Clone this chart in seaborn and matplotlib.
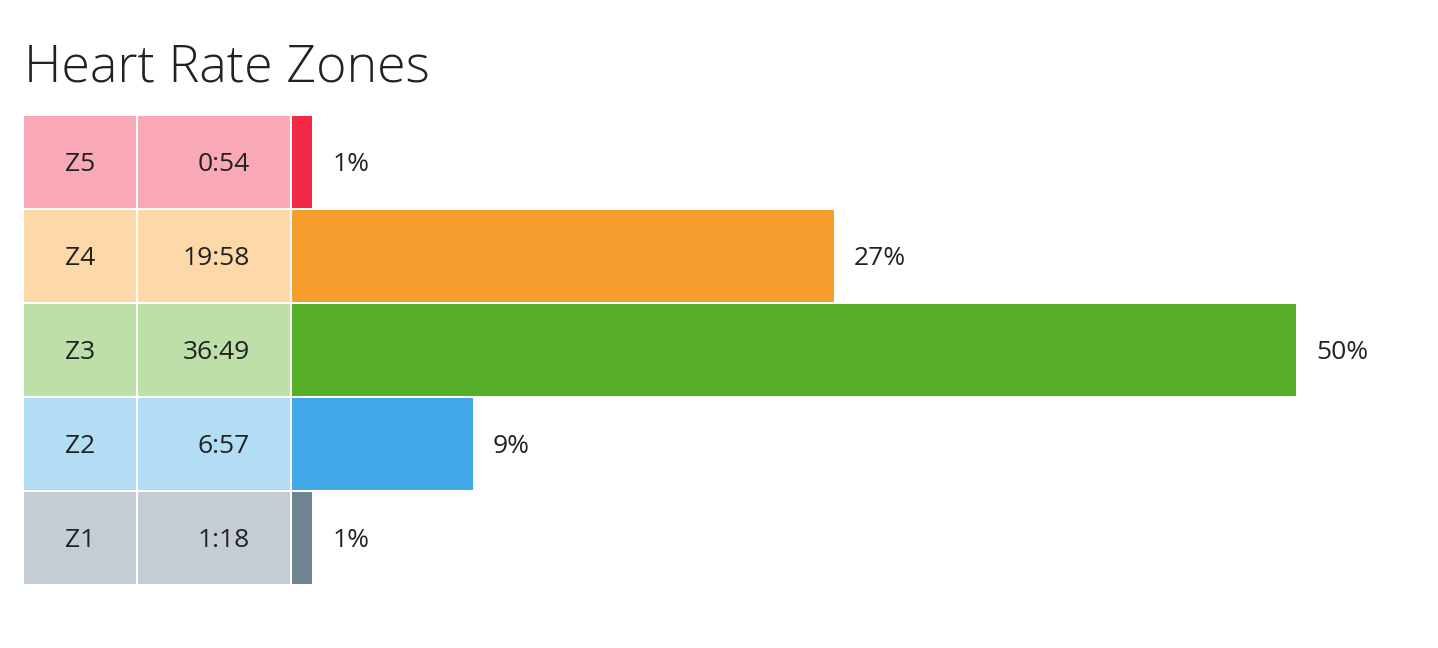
import matplotlib
matplotlib.use("Agg")
import matplotlib.pyplot as plt
import seaborn as sns
import pandas as pd

# data (top to bottom)
zona = ["Z5", "Z4", "Z3", "Z2", "Z1"]
waktu = ["0:54", "19:58", "36:49", "6:57", "1:18"]
persen = [1, 27, 50, 9, 1]

warna_bar = ["#F22A45", "#F59E2D", "#57AE27", "#41A9E8", "#6E8491"]
warna_sel = ["#F8A9B5", "#FDD8A8", "#BDDFA8", "#B3DCF5", "#C5CDD4"]

df = pd.DataFrame({"zona": zona, "waktu": waktu, "persen": persen, "sel": [1] * len(zona)})

sns.set_theme(style="white")
plt.rcParams["font.family"] = ["Open Sans", "DejaVu Sans"]

W, H = 1438, 648
fig = plt.figure(figsize=(W / 100, H / 100), dpi=100)

# posisi sumbu dalam piksel
y_atas, y_bawah = 115, 585
bawah = 1 - y_bawah / H
tinggi = (y_bawah - y_atas) / H
lebar_bar = 92 / 94

ax_zona = fig.add_axes([24 / W, bawah, 112 / W, tinggi])
ax_waktu = fig.add_axes([138 / W, bawah, 152 / W, tinggi])
ax_bar = fig.add_axes([292 / W, bawah, (W - 292) / W, tinggi])

pal_sel = dict(zip(zona, warna_sel))
pal_bar = dict(zip(zona, warna_bar))

for ax in (ax_zona, ax_waktu):
    sns.barplot(data=df, x="sel", y="zona", hue="zona", palette=pal_sel, order=zona,
                orient="h", width=lebar_bar, ax=ax, legend=False, saturation=1, linewidth=0)
    ax.set_xlim(0, 1)

sns.barplot(data=df, x="persen", y="zona", hue="zona", palette=pal_bar, order=zona,
            orient="h", width=lebar_bar, ax=ax_bar, legend=False, saturation=1, linewidth=0)
ax_bar.set_xlim(0, (W - 292) / 20.08)

geser = 0.025  # sedikit ke bawah
for i, (z, t, p) in enumerate(zip(zona, waktu, persen)):
    ax_zona.text(0.5, i + geser, z, ha="center", va="center", fontsize=19, color="#222222")
    ax_waktu.text(0.737, i + geser, t, ha="right", va="center", fontsize=19, color="#222222")
    ax_bar.annotate(f"{p}%", xy=(p, i + geser), xytext=(14.4, 0), textcoords="offset points",
                    ha="left", va="center", fontsize=19, color="#222222")

for ax in (ax_zona, ax_waktu, ax_bar):
    ax.set_ylim(4.5, -0.5)
    ax.set_axis_off()

fig.text(24 / W, 1 - 81 / H, "Heart Rate Zones", fontsize=37.4, fontweight="light",
         color="#222222", ha="left", va="baseline")

fig.savefig("out.png", dpi=100)
